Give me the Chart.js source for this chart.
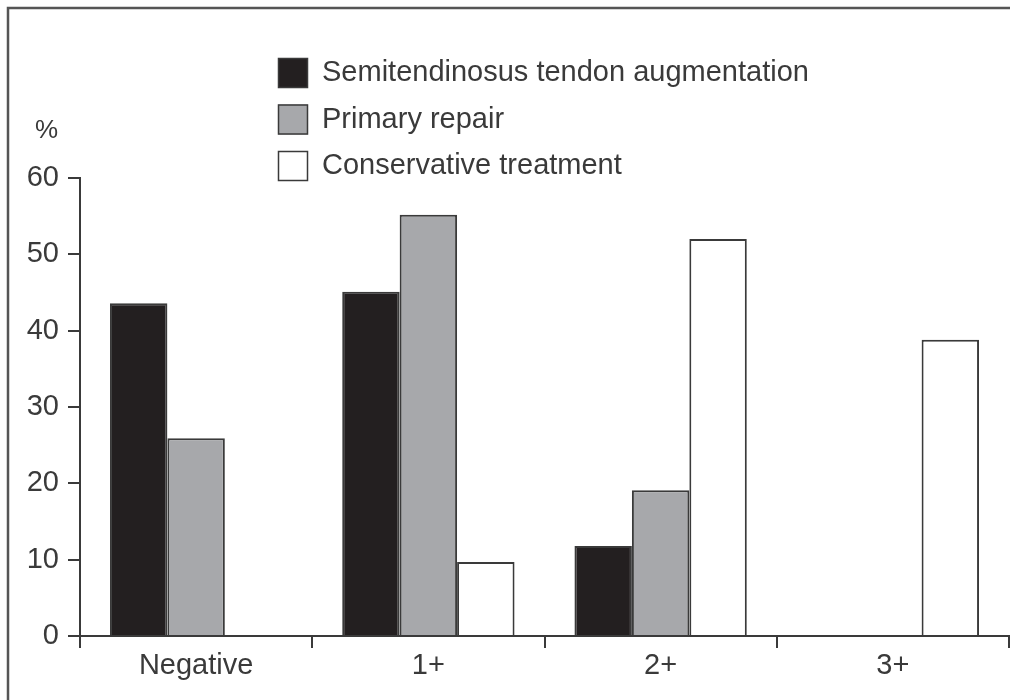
<!DOCTYPE html>
<html>
<head>
<meta charset="utf-8">
<script src="https://cdn.jsdelivr.net/npm/chart.js@4/dist/chart.umd.min.js"></script>
<style>
  html, body { margin:0; padding:0; background:#fff; }
  #wrap { width:1010px; height:700px; position:relative; }
</style>
</head>
<body>
<div id="wrap"><canvas id="chart" width="1010" height="700"></canvas></div>
<script>
const categories = ['Negative', '1+', '2+', '3+'];
const seriesNames = ['Semitendinosus tendon augmentation', 'Primary repair', 'Conservative treatment'];
const augmentation = [43.6, 45.1, 11.8, 0];
const primaryRepair = [25.9, 55.2, 19.1, 0];
const conservative = [0, 9.7, 52.0, 38.8];
const yTicks = [0, 10, 20, 30, 40, 50, 60];

const ink = '#3a3a3a';
const fills = ['#231f20', '#a7a8ab', '#ffffff'];
const font = { family: '"Liberation Sans", Arial, sans-serif', size: 29 };

// frame, % label and the stacked legend box at the top
const decor = {
  id: 'decor',
  beforeDraw(chart){
    const c = chart.ctx;
    c.save();
    c.fillStyle = '#fff';
    c.fillRect(0, 0, chart.width, chart.height);
    c.strokeStyle = '#555';
    c.lineWidth = 2.5;
    c.beginPath();
    c.moveTo(8, chart.height);
    c.lineTo(8, 8);
    c.lineTo(chart.width, 8);
    c.stroke();
    c.restore();
  },
  afterDraw(chart){
    const c = chart.ctx;
    c.save();
    c.fillStyle = ink;
    c.font = '26px ' + font.family;
    c.textBaseline = 'middle';
    c.fillText('%', 35, 131);
    c.font = font.size + 'px ' + font.family;
    chart.data.datasets.forEach((ds, i) => {
      const y = 58 + i * 46.5;
      c.fillStyle = ds.backgroundColor;
      c.fillRect(278, y, 30, 30);
      c.strokeStyle = ink;
      c.lineWidth = 1.5;
      c.strokeRect(278.5, y + 0.5, 29, 29);
      c.fillStyle = ink;
      c.fillText(ds.label, 322, y + 15);
    });
    c.restore();
  }
};

const datasets = [augmentation, primaryRepair, conservative].map((d, i) => ({
  label: seriesNames[i],
  data: d,
  backgroundColor: fills[i],
  borderColor: ink,
  borderWidth: 2,
  borderSkipped: 'bottom',
  categoryPercentage: 0.742,
  barPercentage: 1
}));

new Chart(document.getElementById('chart'), {
  type: 'bar',
  data: { labels: categories, datasets },
  plugins: [decor],
  options: {
    responsive: false,
    animation: false,
    layout: { padding: { top: 178, right: 1, left: 0, bottom: 0 } },
    plugins: { legend: { display: false }, tooltip: { enabled: false } },
    scales: {
      x: {
        afterFit: s => { s.height = 64; },
        grid: { offset: true, drawOnChartArea: false, tickLength: 12, color: ink, lineWidth: 2 },
        border: { color: ink, width: 2 },
        ticks: { color: ink, font, padding: 1 }
      },
      y: {
        min: 0, max: 60,
        afterFit: s => { s.width = 80; },
        afterBuildTicks: s => { s.ticks = yTicks.map(v => ({ value: v })); },
        grid: { drawOnChartArea: false, tickLength: 12, color: ink, lineWidth: 2 },
        border: { color: ink, width: 2 },
        ticks: { color: ink, font, padding: 9 }
      }
    }
  }
});
</script>
</body>
</html>
